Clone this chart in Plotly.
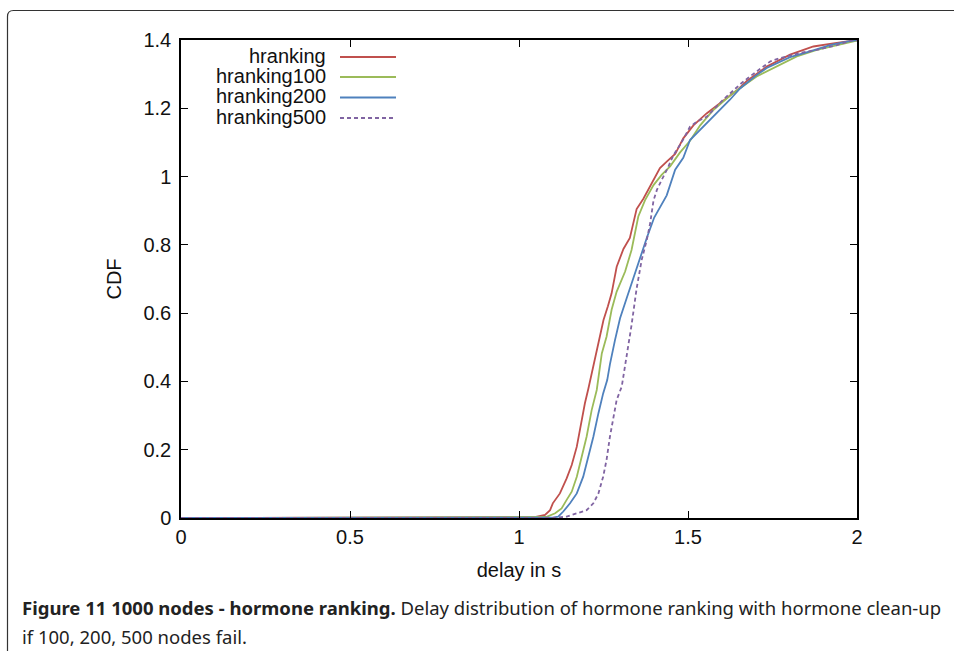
import plotly.graph_objects as go

# Delay CDFs for hormone ranking with clean-up, 1000 nodes
series_names = ["hranking", "hranking100", "hranking200", "hranking500"]

delay_hranking = [0, 1.05, 1.077, 1.092, 1.10, 1.121, 1.141, 1.156, 1.171, 1.185, 1.195, 1.205,
                  1.225, 1.240, 1.250, 1.263, 1.274, 1.289, 1.309, 1.328, 1.348, 1.368, 1.392,
                  1.417, 1.437, 1.462, 1.486, 1.516, 1.555, 1.604, 1.644, 1.674, 1.733, 1.802,
                  1.871, 1.930, 2.0]
cdf_hranking = [0, 0.003, 0.009, 0.023, 0.043, 0.072, 0.116, 0.155, 0.209, 0.287, 0.336, 0.378,
                0.465, 0.531, 0.580, 0.620, 0.658, 0.736, 0.788, 0.820, 0.905, 0.935, 0.980,
                1.025, 1.044, 1.066, 1.112, 1.150, 1.185, 1.222, 1.252, 1.280, 1.322, 1.357,
                1.381, 1.390, 1.400]

delay_hranking100 = [0, 1.08, 1.107, 1.126, 1.141, 1.156, 1.171, 1.185, 1.200, 1.215, 1.230,
                     1.245, 1.259, 1.274, 1.289, 1.314, 1.333, 1.353, 1.373, 1.398, 1.422, 1.447,
                     1.476, 1.506, 1.536, 1.575, 1.634, 1.703, 1.763, 1.822, 1.881, 1.940, 2.0]
cdf_hranking100 = [0, 0.003, 0.014, 0.028, 0.053, 0.077, 0.121, 0.180, 0.238, 0.316, 0.375,
                   0.482, 0.531, 0.610, 0.663, 0.722, 0.785, 0.883, 0.931, 0.975, 1.005, 1.030,
                   1.070, 1.105, 1.150, 1.195, 1.245, 1.293, 1.322, 1.352, 1.371, 1.385, 1.398]

delay_hranking200 = [0, 1.10, 1.116, 1.131, 1.151, 1.171, 1.190, 1.205, 1.220, 1.235, 1.249,
                     1.261, 1.269, 1.284, 1.299, 1.319, 1.336, 1.358, 1.378, 1.400, 1.412, 1.437,
                     1.462, 1.486, 1.506, 1.545, 1.585, 1.624, 1.654, 1.700, 1.733, 1.802, 1.861,
                     1.920, 1.970, 2.0]
cdf_hranking200 = [0, 0.001, 0.004, 0.019, 0.043, 0.072, 0.121, 0.180, 0.238, 0.307, 0.365,
                   0.404, 0.450, 0.521, 0.585, 0.645, 0.697, 0.760, 0.820, 0.880, 0.902, 0.945,
                   1.020, 1.055, 1.107, 1.146, 1.185, 1.225, 1.258, 1.295, 1.318, 1.350, 1.367,
                   1.385, 1.395, 1.400]

delay_hranking500 = [0, 1.10, 1.141, 1.171, 1.200, 1.220, 1.235, 1.249, 1.259, 1.269, 1.279,
                     1.289, 1.304, 1.319, 1.333, 1.348, 1.363, 1.378, 1.388, 1.398, 1.408, 1.422,
                     1.440, 1.457, 1.481, 1.506, 1.526, 1.555, 1.604, 1.654, 1.683, 1.743, 1.772,
                     1.831, 1.881, 1.940, 1.989, 2.0]
cdf_hranking500 = [0, 0.0, 0.004, 0.014, 0.023, 0.043, 0.072, 0.121, 0.170, 0.238, 0.297,
                   0.346, 0.385, 0.473, 0.565, 0.672, 0.756, 0.814, 0.863, 0.930, 0.961, 0.990,
                   1.025, 1.063, 1.100, 1.146, 1.161, 1.175, 1.225, 1.270, 1.293, 1.337, 1.347,
                   1.362, 1.371, 1.385, 1.400, 1.398]

series_x = [delay_hranking, delay_hranking100, delay_hranking200, delay_hranking500]
series_y = [cdf_hranking, cdf_hranking100, cdf_hranking200, cdf_hranking500]
colors = ["#C0504D", "#9BBB59", "#4F81BD", "#8064A2"]
dashes = ["solid", "solid", "solid", "4px,3px"]

x_ticks = [0, 0.5, 1, 1.5, 2]
y_ticks = [0, 0.2, 0.4, 0.6, 0.8, 1, 1.2, 1.4]

caption_bold = "Figure 11 1000 nodes - hormone ranking."
caption_rest = " Delay distribution of hormone ranking with hormone clean-up"
caption_line2 = "if 100, 200, 500 nodes fail."

# page geometry (pixels)
W, H = 954, 651
L, R, T, B = 181, 857, 40, 518


def px(xp):
    return (xp - L) / (R - L)


def py(yp):
    return (B - yp) / (B - T)


fig = go.Figure()
for name, xs, ys, c, d in zip(series_names, series_x, series_y, colors, dashes):
    fig.add_trace(go.Scatter(x=xs, y=ys, mode="lines", name=name,
                             line=dict(color=c, width=1.8, dash=d), showlegend=False))

axis_font = dict(family="Liberation Sans, Arial, sans-serif", size=20, color="#111")

# key in the top-left corner: label on the left, line sample on the right
legend_rows = [56, 76, 96.5, 117]
for name, c, d, yr in zip(series_names, colors, dashes, legend_rows):
    fig.add_annotation(x=px(328), y=py(yr), xref="paper", yref="paper", text=name,
                       showarrow=False, xanchor="right", yanchor="middle", font=axis_font)
    fig.add_shape(type="line", xref="paper", yref="paper", x0=px(340), x1=px(396),
                  y0=py(yr + 1), y1=py(yr + 1), line=dict(color=c, width=1.8, dash=d))

# figure caption
cap_font = dict(family="Noto Sans, sans-serif", size=18.5, color="#222")
fig.add_annotation(x=px(20), y=py(607), xref="paper", yref="paper",
                   text=f"<b>{caption_bold}</b>{caption_rest}", showarrow=False,
                   xanchor="left", yanchor="middle", font=cap_font)
fig.add_annotation(x=px(20), y=py(636), xref="paper", yref="paper",
                   text=caption_line2, showarrow=False,
                   xanchor="left", yanchor="middle", font=cap_font)

# rounded frame around the whole figure, running off the right and bottom edges
r = 6
frame = (f"M {px(7.5)} {py(H + 20)} L {px(7.5)} {py(10.5 + r)} "
         f"Q {px(7.5)} {py(10.5)} {px(7.5 + r)} {py(10.5)} L {px(W + 20)} {py(10.5)}")
fig.add_shape(type="path", xref="paper", yref="paper", path=frame,
              line=dict(color="#333", width=1.2))

fig.update_xaxes(range=[0, 2], tickvals=x_ticks, ticktext=[f"{v:g}" for v in x_ticks],
                 showgrid=False, zeroline=False, showline=True, linecolor="black",
                 linewidth=1.5, mirror="allticks", ticks="inside", ticklen=7,
                 tickcolor="black", tickwidth=1.2, tickfont=axis_font,
                 title=dict(text="delay in s", font=axis_font, standoff=16))
fig.update_yaxes(range=[0, 1.4], tickvals=y_ticks, ticktext=[f"{v:g}" for v in y_ticks],
                 showgrid=False, zeroline=False, showline=True, linecolor="black",
                 linewidth=1.5, mirror="allticks", ticks="inside", ticklen=7,
                 tickcolor="black", tickwidth=1.2, tickfont=axis_font,
                 ticklabelstandoff=4,
                 title=dict(text="CDF", font=axis_font, standoff=16))

fig.update_layout(width=W, height=H, margin=dict(l=L, r=W - R, t=T, b=H - B),
                  plot_bgcolor="white", paper_bgcolor="white", showlegend=False)

fig.write_html("out.html")
